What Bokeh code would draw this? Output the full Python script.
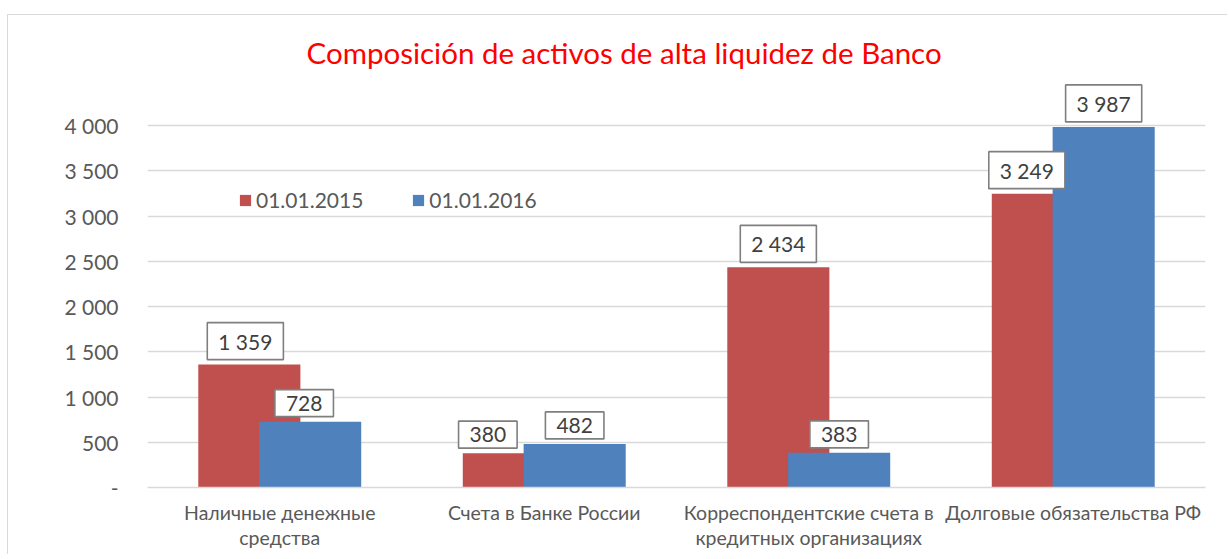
from bokeh.plotting import figure
from bokeh.models import (ColumnDataSource, Title, Legend, LegendItem,
                          FixedTicker, FactorRange, Range1d)
from bokeh.transform import dodge
from bokeh.embed import file_html
from bokeh.resources import INLINE
from bokeh.core.properties import value

# ---------------- data ----------------
categories = [
    "Наличные денежные\nсредства",
    "Счета в Банке России",
    "Корреспондентские счета в\nкредитных организациях",
    "Долговые обязательства РФ",
]
series_names = ["01.01.2015", "01.01.2016"]
values_2015 = [1359, 380, 2434, 3249]
values_2016 = [728, 482, 383, 3987]
y_ticks = [0, 500, 1000, 1500, 2000, 2500, 3000, 3500, 4000]
y_tick_labels = ["-", "500", "1 000", "1 500", "2 000", "2 500", "3 000", "3 500", "4 000"]
title_text = "Composición de activos de alta liquidez de Banco"

# label nudges (px), like manually moved data labels
label_dx_2015 = [-4, -26, 0, -16]
label_dx_2016 = [-6, 0, 0, 0]

RED = "#C0504D"
BLUE = "#4F81BD"
FONT = "Lato"


def fmt(v):
    return f"{v:,}".replace(",", " ")


src = ColumnDataSource(dict(
    cat=categories,
    v15=values_2015,
    v16=values_2016,
    l15=[fmt(v) for v in values_2015],
    l16=[fmt(v) for v in values_2016],
    dx15=label_dx_2015,
    dx16=label_dx_2016,
))

p = figure(
    x_range=FactorRange(*categories, range_padding=0),
    y_range=Range1d(0, 4500),
    width=1220, height=540,
    output_backend="svg", toolbar_location=None,
    min_border_left=139, min_border_right=23,
    min_border_top=65, min_border_bottom=68,
)
p.margin = (14, 0, 0, 7)
p.styles = {"border-top": "1px solid #d9d9d9", "border-left": "1px solid #d9d9d9"}
p.outline_line_color = None
p.background_fill_color = "white"
p.border_fill_color = "white"

off = 0.115
bw = 0.386
r15 = p.vbar(x=dodge("cat", -off, range=p.x_range), top="v15", width=bw, source=src,
             fill_color=RED, line_color=None)
r16 = p.vbar(x=dodge("cat", off, range=p.x_range), top="v16", width=bw, source=src,
             fill_color=BLUE, line_color=None)

# data labels (boxed)
for xo, yf, tf, dxf in [(-off, "v15", "l15", "dx15"), (off, "v16", "l16", "dx16")]:
    p.text(x=dodge("cat", xo, range=p.x_range), y=yf, text=tf, source=src,
           x_offset=dxf, y_offset=-5,
           text_align="center", text_baseline="bottom",
           text_font=value(FONT), text_font_size="21px", text_color="#404040",
           background_fill_color="white", border_line_color="#7f7f7f",
           border_line_width=1.6, padding=(11, 6))

# axes
p.yaxis.ticker = FixedTicker(ticks=y_ticks)
p.yaxis.major_label_overrides = {t: l for t, l in zip(y_ticks, y_tick_labels)}
p.yaxis.axis_line_color = None
p.yaxis.major_tick_line_color = None
p.yaxis.minor_tick_line_color = None
p.yaxis.major_label_standoff = 23
p.yaxis.major_label_text_font = FONT
p.yaxis.major_label_text_font_size = "21px"
p.yaxis.major_label_text_color = "#595959"

p.xaxis.axis_line_color = "#d9d9d9"
p.xaxis.axis_line_width = 1.4
p.xaxis.major_tick_line_color = None
p.xaxis.minor_tick_line_color = None
p.xaxis.major_label_standoff = 7
p.xaxis.major_label_text_font = FONT
p.xaxis.major_label_text_font_size = "19.5px"
p.xaxis.major_label_text_color = "#595959"
p.xaxis.major_label_text_line_height = 1.1

p.xgrid.grid_line_color = None
p.ygrid.grid_line_color = "#d9d9d9"
p.ygrid.grid_line_width = 1.4

# legend
legend = Legend(items=[LegendItem(label=series_names[0], renderers=[r15]),
                       LegendItem(label=series_names[1], renderers=[r16])],
                orientation="horizontal", location=(91, 275),
                glyph_width=14, glyph_height=14, label_standoff=4, spacing=48,
                padding=0, margin=0, border_line_color=None, background_fill_alpha=0,
                label_text_font=FONT, label_text_font_size="21px",
                label_text_color="#595959", label_height=20)
p.add_layout(legend)

# title
p.add_layout(Title(text=title_text, align="left", offset=159, standoff=21,
                   text_color="#FF0000", text_font=FONT, text_font_size="29.5px",
                   text_font_style="normal"), "above")

open("out.html", "w").write(file_html(p, INLINE))
